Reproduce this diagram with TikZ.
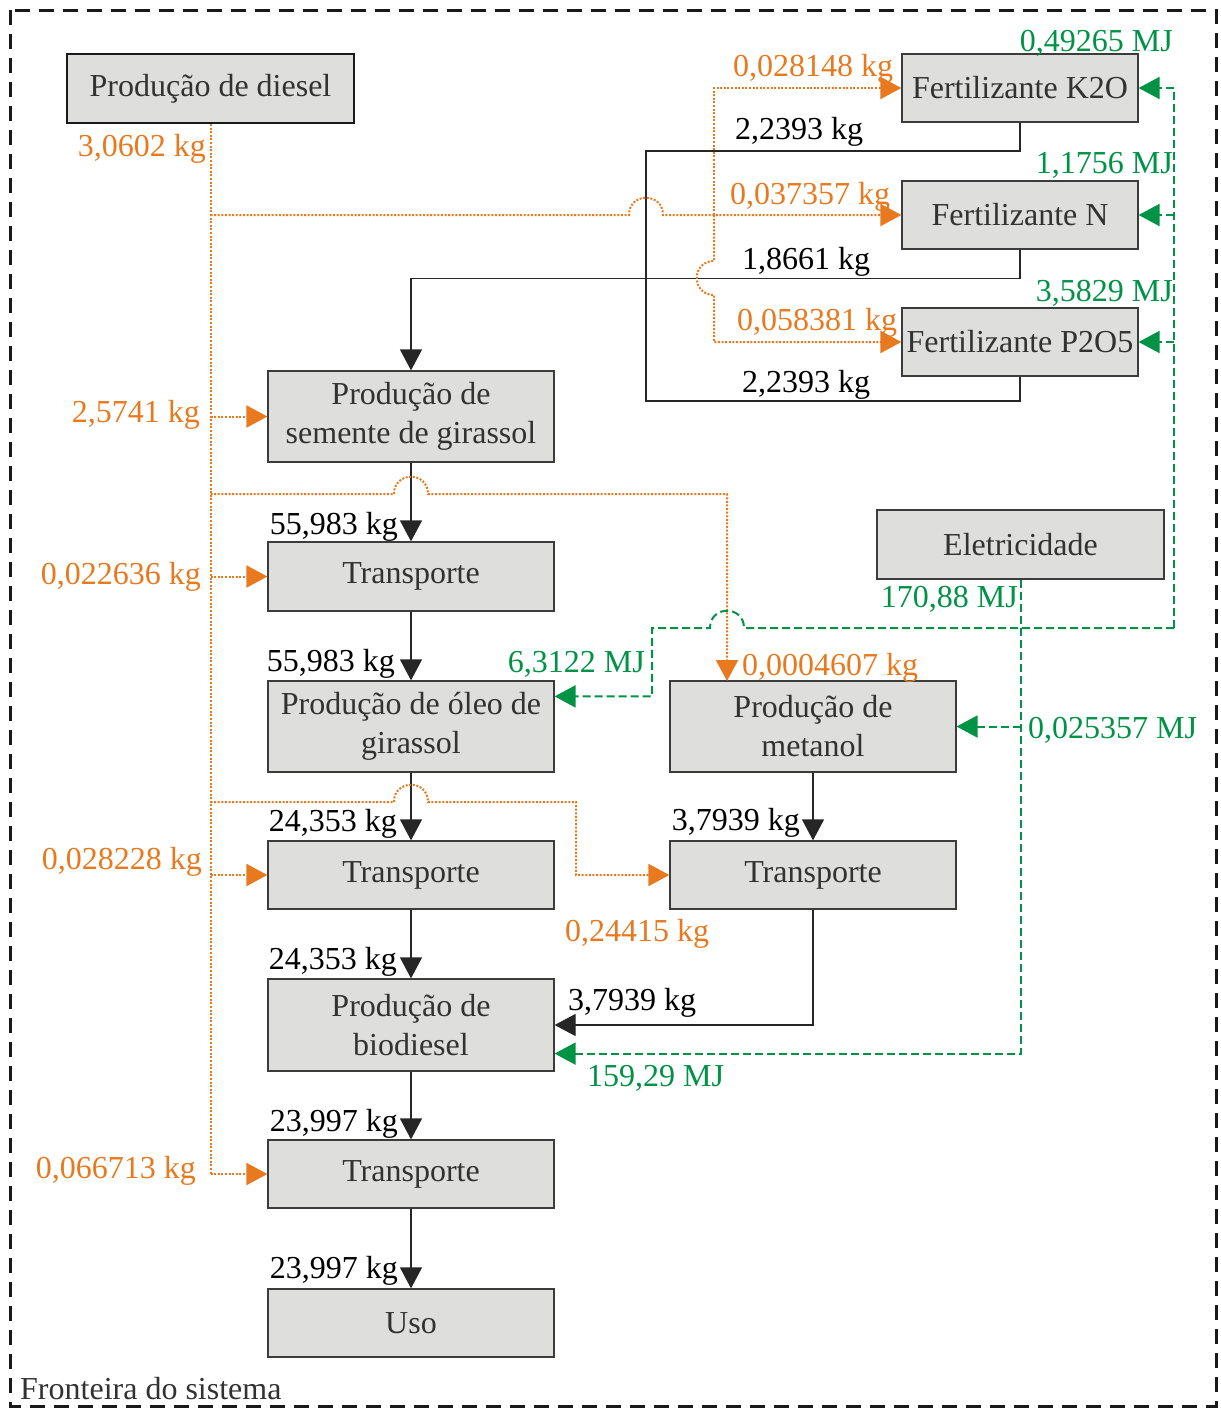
\documentclass[tikz,border=0pt]{standalone}
\usepackage{fontspec}
\setmainfont{Liberation Serif}
\usetikzlibrary{arrows.meta,calc}
\definecolor{dor}{RGB}{232,121,30}
\definecolor{egr}{RGB}{0,146,69}
\definecolor{boxfill}{RGB}{222,222,221}
\definecolor{boxline}{RGB}{60,60,60}
\definecolor{boxtext}{RGB}{50,50,50}
\tikzset{
  proc/.style={draw=boxline, fill=boxfill, line width=1.2pt, text=boxtext, align=center,
    inner sep=0pt, font=\fontsize{32}{39}\selectfont},
  lbl/.style={inner sep=0pt, font=\fontsize{32}{39}\selectfont},
  olbl/.style={lbl, text=dor},
  glbl/.style={lbl, text=egr},
  tip/.style={-{Triangle[length=21pt,width=22pt]}},
  blkline/.style={draw=black!85, line width=1.2pt},
  blkarrow/.style={blkline, tip},
  dsline/.style={draw=dor, line width=2pt, dash pattern=on 2pt off 1.6pt},
  dsarrow/.style={dsline, tip},
  elline/.style={draw=egr, line width=2pt, dash pattern=on 8pt off 4pt},
  elarrow/.style={elline, tip},
}
\begin{document}
\begin{tikzpicture}[x=1pt,y=-1pt]
\useasboundingbox (0,0) rectangle (1221,1409);
% system boundary
\draw[line width=3pt, dash pattern=on 15pt off 9pt, black!90] (10,10) rectangle (1216,1406);
\node[lbl, anchor=base west, text=boxtext] (front) at (20,1399) {Fronteira do sistema};

% process nodes
\node[proc, line width=1.8pt, draw=black!90, minimum width=287pt, minimum height=69pt] (diesel) at (210.5,88.5) {Produção de diesel};
\node[proc, minimum width=236pt, minimum height=68pt] (K2O) at (1020,88) {Fertilizante K2O};
\node[proc, minimum width=236pt, minimum height=68pt] (N) at (1020,215) {Fertilizante N};
\node[proc, minimum width=236pt, minimum height=68pt] (P2O5) at (1020,342) {Fertilizante P2O5};
\node[proc, minimum width=286pt, minimum height=91pt] (semente) at (411,416.5) {Produção de\\semente de girassol};
\node[proc, minimum width=286pt, minimum height=69pt] (T1) at (411,576.5) {Transporte};
\node[proc, minimum width=286pt, minimum height=91pt] (oleo) at (411,726.5) {Produção de óleo de\\girassol};
\node[proc, minimum width=286pt, minimum height=91pt] (metanol) at (813,726.5) {Produção de\\metanol};
\node[proc, minimum width=287pt, minimum height=69pt] (elet) at (1020.5,544.5) {Eletricidade};
\node[proc, minimum width=286pt, minimum height=68pt] (T2) at (411,875) {Transporte};
\node[proc, minimum width=286pt, minimum height=68pt] (T3) at (813,875) {Transporte};
\node[proc, minimum width=286pt, minimum height=92pt] (bio) at (411,1025) {Produção de\\biodiesel};
\node[proc, minimum width=286pt, minimum height=68pt] (T4) at (411,1174) {Transporte};
\node[proc, minimum width=286pt, minimum height=68pt] (uso) at (411,1323) {Uso};

% helper coordinates
\coordinate (fa) at (646,151);
\coordinate (fb) at (646,401);
\coordinate (ox) at (714,215);
\coordinate (gx) at (1174,628);

% black mass flows
\draw[blkline] (K2O.south) |- (fa) -- (fb) -| (P2O5.south);
\draw[blkarrow] (N.south) -- ++(0,29) -| (semente.north);
\draw[blkarrow] (semente.south) -- (T1.north);
\draw[blkarrow] (T1.south) -- (oleo.north);
\draw[blkarrow] (oleo.south) -- (T2.north);
\draw[blkarrow] (T2.south) -- (bio.north);
\draw[blkarrow] (bio.south) -- (T4.north);
\draw[blkarrow] (T4.south) -- (uso.north);
\draw[blkarrow] (metanol.south) -- (T3.north);
\draw[blkarrow] (T3.south) |- (bio.east);

% diesel flows (orange)
\draw[dsline] (diesel.south) -- (diesel.south |- T4.west);
\draw[dsarrow] (diesel.south |- T4.west) -- (T4.west);
\draw[dsarrow] (diesel.south |- semente.west) -- (semente.west);
\draw[dsarrow] (diesel.south |- T1.west) -- (T1.west);
\draw[dsarrow] (diesel.south |- T2.west) -- (T2.west);
\draw[dsarrow] (diesel.south |- N.west) -- (629,215) .. controls (629,192) and (663,192) .. (663,215) -- (N.west);
\draw[dsarrow] (ox) |- (K2O.west);
\draw[dsarrow] (ox) -- (714,261) .. controls (691,261) and (691,295) .. (714,295) |- (P2O5.west);
\draw[dsarrow] (diesel.south |- 0,494) -- (394,494) .. controls (394,471) and (428,471) .. (428,494) -- (727,494) -- (727,681);
\draw[dsarrow] (diesel.south |- 0,802) -- (394,802) .. controls (394,779) and (428,779) .. (428,802) -- (576,802) |- (T3.west);

% electricity flows (green)
\draw[elarrow] (elet.south) |- ($(bio.south east)+(0,-18)$);
\draw[elarrow] (metanol.east -| elet.south) -- (metanol.east);
\draw[elarrow] (gx) -- (744,628) .. controls (744,605) and (710,605) .. (710,628) -- (652,628) |- ($(oleo.north east)+(0,16)$);
\draw[elline] (gx) -- (gx |- K2O.east);
\draw[elarrow] (gx |- K2O.east) -- (K2O.east);
\draw[elarrow] (gx |- N.east) -- (N.east);
\draw[elarrow] (gx |- P2O5.east) -- (P2O5.east);

% orange labels
\node[olbl, anchor=base east] (l1) at (206,156) {3,0602 kg};
\node[olbl, anchor=base west] (l2) at (733,76) {0,028148 kg};
\node[olbl, anchor=base west] (l3) at (730,204) {0,037357 kg};
\node[olbl, anchor=base west] (l4) at (737,330) {0,058381 kg};
\node[olbl, anchor=base east] (l5) at (200,422) {2,5741 kg};
\node[olbl, anchor=base east] (l6) at (201,584) {0,022636 kg};
\node[olbl, anchor=base west] (l7) at (742,675) {0,0004607 kg};
\node[olbl, anchor=base east] (l8) at (202,869) {0,028228 kg};
\node[olbl, anchor=base west] (l9) at (565,941) {0,24415 kg};
\node[olbl, anchor=base east] (l10) at (196,1178) {0,066713 kg};
% black labels
\node[lbl, anchor=base west] (b1) at (735,139) {2,2393 kg};
\node[lbl, anchor=base west] (b2) at (742,269) {1,8661 kg};
\node[lbl, anchor=base west] (b3) at (742,392) {2,2393 kg};
\node[lbl, anchor=base east] (b4) at (398,534) {55,983 kg};
\node[lbl, anchor=base east] (b5) at (395,671) {55,983 kg};
\node[lbl, anchor=base east] (b6) at (397,831) {24,353 kg};
\node[lbl, anchor=base east] (b7) at (397,969) {24,353 kg};
\node[lbl, anchor=base east] (b8) at (398,1131) {23,997 kg};
\node[lbl, anchor=base east] (b9) at (398,1278) {23,997 kg};
\node[lbl, anchor=base east] (b10) at (800,830) {3,7939 kg};
\node[lbl, anchor=base west] (b11) at (568,1010) {3,7939 kg};
% green labels
\node[glbl, anchor=base east] (g1) at (1173,51) {0,49265 MJ};
\node[glbl, anchor=base east] (g2) at (1173,173) {1,1756 MJ};
\node[glbl, anchor=base east] (g3) at (1173,301) {3,5829 MJ};
\node[glbl, anchor=base east] (g4) at (1018,607) {170,88 MJ};
\node[glbl, anchor=base east] (g5) at (645,672) {6,3122 MJ};
\node[glbl, anchor=base west] (g6) at (1028,738) {0,025357 MJ};
\node[glbl, anchor=base west] (g7) at (587,1086) {159,29 MJ};
\end{tikzpicture}
\end{document}
